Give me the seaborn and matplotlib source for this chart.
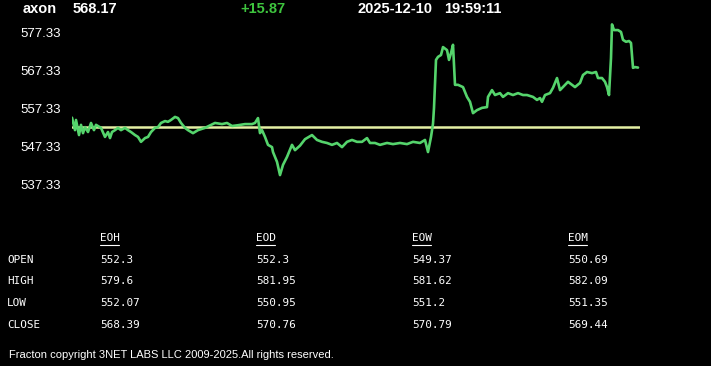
import matplotlib
matplotlib.use("Agg")
import matplotlib.pyplot as plt
from matplotlib.lines import Line2D
import seaborn as sns
import pandas as pd

# ---- data ----
symbol = "axon"
last_price = "568.17"
change = "+15.87"
date_str = "2025-12-10"
time_str = "19:59:11"
open_price = 552.3

minutes = [0, 3, 4, 7, 9, 11, 13, 16, 19, 22, 24, 29, 33, 36, 38, 40, 43, 46, 49, 53,
           56, 59, 63, 66, 69, 73, 76, 79, 83, 86, 89, 93, 96, 99, 103, 106, 109, 113, 116, 121,
           126, 133, 143, 150, 155, 160, 166, 173, 180, 183, 186, 187, 188, 190, 193, 196, 200, 201, 205, 208,
           211, 215, 220, 223, 228, 233, 240, 245, 250, 255, 260, 265, 270, 275, 280, 285, 290, 295, 298, 303,
           308, 315, 321, 328, 335, 341, 348, 353, 356, 359, 361, 362, 364, 366, 369, 371, 375, 377, 379, 381,
           383, 386, 391, 395, 398, 401, 405, 410, 415, 416, 420, 423, 428, 431, 436, 441, 446, 451, 455, 461,
           465, 468, 470, 473, 478, 481, 485, 488, 493, 496, 500, 503, 508, 511, 515, 520, 524, 526, 530, 533,
           535, 537, 539, 540, 542, 546, 549, 551, 554, 557, 559, 561, 563, 566]
prices = [554.9, 551.6, 554.3, 550.3, 553.0, 550.8, 552.4, 551.1, 553.5, 551.6, 553.0, 552.2, 549.8, 551.1, 549.5, 551.1, 551.6, 552.2, 551.6, 552.2,
          551.6, 551.1, 550.3, 549.8, 548.5, 549.5, 549.8, 551.1, 552.2, 552.4, 553.5, 554.0, 553.8, 554.3, 555.1, 554.8, 553.5, 552.2, 551.6, 550.8,
          551.6, 552.2, 553.5, 553.2, 553.5, 552.7, 552.9, 553.2, 553.2, 553.5, 554.8, 552.9, 550.8, 551.6, 549.8, 547.7, 547.1, 545.8, 543.2, 539.7,
          542.4, 544.5, 547.7, 546.3, 547.5, 549.2, 550.3, 549.0, 548.5, 548.2, 547.7, 548.2, 547.1, 548.5, 549.0, 548.5, 548.5, 549.5, 548.2, 548.2,
          547.7, 548.2, 547.9, 548.2, 547.9, 548.5, 548.2, 549.0, 545.8, 549.8, 553.3, 557.5, 570.2, 571.0, 571.5, 573.6, 572.8, 570.2, 572.0, 574.2,
          563.6, 563.6, 563.0, 560.4, 559.1, 556.1, 556.9, 557.5, 557.7, 560.4, 562.2, 560.9, 561.4, 560.4, 561.4, 560.9, 561.4, 560.9, 560.9, 560.4,
          559.6, 560.1, 559.1, 560.9, 561.4, 562.8, 565.4, 562.2, 563.6, 564.4, 563.6, 563.0, 564.1, 566.2, 567.0, 566.7, 567.0, 565.4, 565.4, 564.4,
          563.0, 560.9, 570.7, 579.6, 578.1, 578.1, 577.6, 575.5, 575.0, 575.2, 574.7, 568.1, 568.3, 568.17]
ytick_values = [537.33, 547.33, 557.33, 567.33, 577.33]

periods = ["EOH", "EOD", "EOW", "EOM"]
row_names = ["OPEN", "HIGH", "LOW", "CLOSE"]
open_vals = ["552.3", "552.3", "549.37", "550.69"]
high_vals = ["579.6", "581.95", "581.62", "582.09"]
low_vals = ["552.07", "550.95", "551.2", "551.35"]
close_vals = ["568.39", "570.76", "570.79", "569.44"]
copyright_text = "Fracton copyright 3NET LABS LLC 2009-2025.All rights reserved."

# ---- figure ----
sns.set_style("dark")
W, H = 711, 366
fig = plt.figure(figsize=(W / 100, H / 100), dpi=100, facecolor="black")

def fx(x):
    return x / W

def fy(y):
    return 1 - y / H

ax_left, ax_right, ax_top, ax_bot = 72, 640, 20, 195
ax = fig.add_axes([fx(ax_left), fy(ax_bot), (ax_right - ax_left) / W, (ax_bot - ax_top) / H])
ax.set_facecolor("black")

df = pd.DataFrame({"minute": minutes, "price": prices})
sns.lineplot(data=df, x="minute", y="price", ax=ax, color="#55d46c", linewidth=1.9)
ax.axhline(open_price, color="#e4f0a4", linewidth=1.8, zorder=1)

ax.set_xlim(0, 568)
ax.set_ylim(534.42, 580.77)
ax.set_yticks(ytick_values)
ax.set_yticklabels([f"{v:.2f}" for v in ytick_values], color="white",
                   fontsize=9.5, family="Liberation Sans")
ax.tick_params(axis="y", length=0, pad=8)
ax.set_xticks([])
ax.set_xlabel("")
ax.set_ylabel("")
ax.grid(False)
for s in ax.spines.values():
    s.set_visible(False)

# header
hdr = dict(fontsize=10.5, fontweight="bold", family="Liberation Sans", va="center")
fig.text(fx(23), fy(9), symbol, color="white", **hdr)
fig.text(fx(73), fy(9), last_price, color="white", **hdr)
fig.text(fx(240), fy(9), change, color="#3ec43e", **hdr)
fig.text(fx(357), fy(9), date_str, color="white", **hdr)
fig.text(fx(444), fy(9), time_str, color="white", **hdr)

# table
mono = dict(fontsize=7.9, family="DejaVu Sans Mono", color="white", va="center")
col_x = [100, 256, 412, 568]
row_y = [260, 281, 303, 325]
for cx, p in zip(col_x, periods):
    fig.text(fx(cx), fy(238), p, **mono)
    fig.add_artist(Line2D([fx(cx), fx(cx + 19)], [fy(245), fy(245)], color="white", linewidth=0.8))
for ry, name in zip(row_y, row_names):
    fig.text(fx(7), fy(ry), name, **mono)
for ry, vals in zip(row_y, [open_vals, high_vals, low_vals, close_vals]):
    for cx, v in zip(col_x, vals):
        fig.text(fx(cx), fy(ry), v, **mono)

fig.text(fx(9), fy(355), copyright_text, fontsize=8.0, family="Liberation Sans",
         color="white", va="center")

fig.savefig("out.png", dpi=100, facecolor="black")
